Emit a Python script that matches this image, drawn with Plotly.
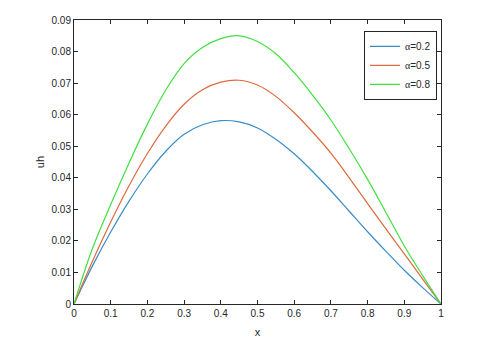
import plotly.graph_objects as go

x = [0, 0.05, 0.1, 0.15, 0.2, 0.25, 0.3, 0.35, 0.4, 0.45, 0.5,
     0.55, 0.6, 0.65, 0.7, 0.75, 0.8, 0.85, 0.9, 0.95, 1.0]

uh_02 = [0, 0.0120, 0.0228, 0.0326, 0.0412, 0.0484, 0.0538, 0.0568, 0.0581, 0.0577, 0.0558,
         0.0522, 0.0476, 0.0420, 0.0359, 0.0294, 0.0229, 0.0167, 0.0107, 0.0052, 0]
uh_05 = [0, 0.0135, 0.0260, 0.0375, 0.0477, 0.0564, 0.0633, 0.0679, 0.0703, 0.0709, 0.0694,
         0.0658, 0.0606, 0.0545, 0.0478, 0.0400, 0.0318, 0.0238, 0.0159, 0.0079, 0]
uh_08 = [0, 0.0175, 0.0315, 0.0447, 0.0570, 0.0678, 0.0762, 0.0813, 0.0841, 0.0850, 0.0832,
         0.0793, 0.0733, 0.0662, 0.0583, 0.0492, 0.0395, 0.0290, 0.0184, 0.0090, 0]

series = [
    ("=0.2", uh_02, "#3a8cc8"),
    ("=0.5", uh_05, "#dd6a40"),
    ("=0.8", uh_08, "#40e040"),
]

x_ticks = [0, 0.1, 0.2, 0.3, 0.4, 0.5, 0.6, 0.7, 0.8, 0.9, 1]
y_ticks = [0, 0.01, 0.02, 0.03, 0.04, 0.05, 0.06, 0.07, 0.08, 0.09]

axis_color = "#262626"

fig = go.Figure()
for label, values, color in series:
    fig.add_trace(
        go.Scatter(
            x=x,
            y=values,
            mode="lines",
            line=dict(color=color, width=1.2, shape="spline", smoothing=1),
            name="<span style='font-family:Liberation Serif'>α</span>" + label,
        )
    )

axis_common = dict(
    showline=True,
    linecolor=axis_color,
    linewidth=1,
    mirror="ticks",
    ticks="inside",
    ticklen=4,
    tickcolor=axis_color,
    showgrid=False,
    zeroline=False,
    tickfont=dict(size=10, color=axis_color),
)

fig.update_xaxes(
    range=[0, 1],
    tickvals=x_ticks,
    ticktext=[f"{v:g}" for v in x_ticks],
    title=dict(text="x", font=dict(size=11, color=axis_color), standoff=10),
    **axis_common,
)
fig.update_yaxes(
    range=[0, 0.09],
    tickvals=y_ticks,
    ticktext=[f"{v:g}" for v in y_ticks],
    title=dict(text="uh", font=dict(size=11, color=axis_color), standoff=4),
    **axis_common,
)

# the page body adds an 8px offset, so margins are shifted by that amount
fig.update_layout(
    width=500,
    height=343,
    margin=dict(l=66, r=67, t=6, b=47),
    paper_bgcolor="white",
    plot_bgcolor="white",
    font=dict(family="Liberation Sans, Arial, sans-serif", color=axis_color),
    legend=dict(
        x=0.989,
        y=0.962,
        xanchor="right",
        yanchor="top",
        bgcolor="white",
        bordercolor=axis_color,
        borderwidth=1,
        font=dict(size=10, color=axis_color),
        itemwidth=30,
        tracegroupgap=0,
    ),
)

fig.write_html("out.html")
